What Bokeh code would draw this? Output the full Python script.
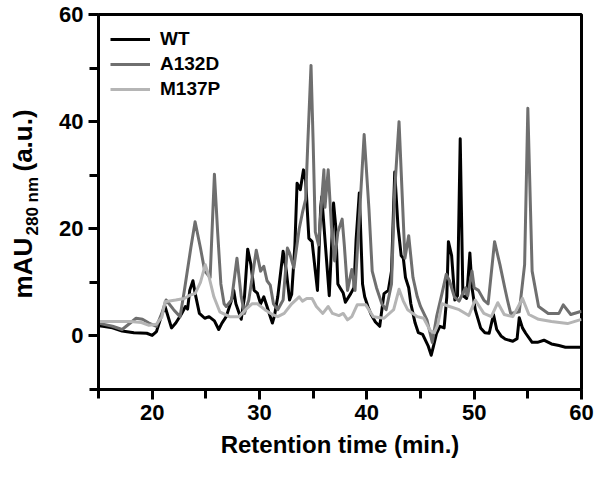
import math
from bokeh.plotting import figure
from bokeh.layouts import row
from bokeh.models import Range1d, FixedTicker, Legend, LegendItem
from bokeh.core.properties import value
from bokeh.embed import file_html
from bokeh.resources import INLINE

# ---------------- data ----------------
wt_time = [15.0, 15.4, 16.3, 17.2, 18.3, 19.5, 20.0, 20.4, 20.9, 21.2, 21.8, 22.2, 22.7,
           23.1, 23.3, 23.5, 23.8, 24.0, 24.4, 24.9, 25.3, 25.8, 26.2, 26.5, 26.9, 27.4,
           27.6, 27.8, 28.3, 28.6, 28.9, 29.2, 29.5, 29.8, 30.1, 30.4, 30.7, 31.0, 31.2,
           31.4, 31.7, 32.2, 32.5, 32.8, 33.0, 33.3, 33.5, 33.8, 34.1, 34.3, 34.6, 34.9,
           35.2, 35.4, 35.7, 35.8, 36.1, 36.5, 36.9, 37.1, 37.3, 37.5, 37.8, 38.0, 38.5,
           38.8, 39.0, 39.3, 39.6, 39.8, 40.1, 40.4, 40.8, 41.2, 41.6, 42.0, 42.3, 42.6,
           42.9, 43.2, 43.4, 43.6, 43.9, 44.1, 44.5, 44.8, 45.2, 45.7, 46.0, 46.2, 46.5,
           46.8, 47.2, 47.45, 47.6, 47.9, 48.2, 48.45, 48.7, 48.95, 49.1, 49.3, 49.6, 49.8,
           50.1, 50.6, 51.0, 51.4, 51.8, 52.1, 52.5, 52.9, 53.6, 54.0, 54.2, 54.5, 54.8,
           55.4, 55.9, 56.5, 57.2, 57.9, 58.5, 60.0]
wt_signal = [1.9, 1.8, 1.5, 0.9, 0.6, 0.5, 0.1, 0.8, 4.0, 5.5, 1.5, 2.4, 4.0,
             5.5, 5.0, 8.5, 10.3, 8.0, 4.2, 3.3, 3.6, 2.8, 1.2, 2.4, 3.6, 6.7,
             8.5, 6.0, 3.1, 7.3, 16.2, 13.3, 8.5, 8.0, 6.0, 7.3, 5.5, 3.6, 2.4,
             3.8, 7.3, 15.8, 12.1, 6.7, 7.8, 17.0, 28.5, 27.3, 31.0, 29.0, 18.2, 17.6,
             12.1, 8.5, 24.0, 26.0, 18.0, 7.5, 24.8, 20.5, 9.7, 9.0, 8.0, 6.3, 7.9,
             9.0, 18.0, 26.7, 9.7, 7.3, 5.5, 4.0, 2.6, 1.8, 7.9, 8.5, 12.1, 30.6,
             20.5, 15.0, 14.5, 10.9, 9.0, 6.0, 2.4, 0.6, 0.3, -1.8, -3.6, -2.0, 0.5,
             1.8, 1.5, 7.3, 17.6, 15.0, 6.7, 7.5, 36.8, 7.5, 7.3, 7.0, 15.5, 9.0,
             4.9, 1.5, 0.6, 0.5, 4.0, 1.2, 0.0, -0.6, -1.0, -0.5, 3.4, 1.5, 0.5,
             -1.2, -1.2, -0.8, -1.5, -1.8, -2.1, -2.1]

a132d_time = [15.0, 15.4, 16.3, 17.2, 17.7, 18.5, 19.1, 19.7, 20.4, 20.9, 21.3, 22.0, 22.6,
              23.0, 23.6, 24.0, 24.5, 24.9, 25.4, 25.8, 26.1, 26.4, 26.7, 26.9, 27.4, 27.9,
              28.3, 28.6, 29.0, 29.7, 30.1, 30.4, 30.7, 31.0, 31.3, 31.7, 32.2, 32.6, 32.8,
              33.2, 33.7, 34.0, 34.3, 34.5, 34.8, 35.0, 35.2, 35.5, 35.8, 36.0, 36.1, 36.4,
              36.7, 37.0, 37.3, 37.7, 37.9, 38.2, 38.6, 38.9, 39.4, 39.75, 40.2, 40.5, 40.9,
              41.4, 41.8, 42.3, 42.6, 43.0, 43.3, 43.55, 43.9, 44.3, 44.7, 45.0, 45.6, 46.1,
              46.5, 47.0, 47.4, 47.7, 48.15, 48.6, 49.2, 49.4, 49.8, 50.0, 50.4, 50.9, 51.3,
              51.9, 52.4, 52.85, 53.1, 53.4, 54.2, 54.7, 55.0, 55.4, 56.0, 56.9, 57.9, 58.3,
              59.0, 60.0]
a132d_signal = [2.4, 2.2, 1.8, 1.2, 2.0, 3.3, 3.1, 2.4, 1.8, 4.2, 6.7, 4.9, 3.6,
                8.5, 16.4, 21.3, 16.4, 12.1, 10.9, 30.2, 19.4, 9.7, 6.0, 5.5, 6.7, 14.5,
                7.3, 4.2, 6.7, 16.0, 12.1, 13.0, 10.3, 9.5, 6.0, 4.9, 6.7, 16.4, 15.5,
                12.7, 20.0, 23.0, 25.5, 36.0, 50.5, 36.0, 19.4, 17.0, 25.5, 31.0, 24.0, 31.0,
                20.5, 14.0, 19.4, 21.8, 17.0, 8.5, 12.4, 8.5, 25.5, 37.6, 23.6, 12.1, 9.0,
                6.0, 4.9, 9.7, 27.3, 40.0, 26.0, 14.5, 18.7, 10.9, 7.3, 5.5, 3.0, -1.2,
                3.6, 7.9, 11.5, 10.3, 7.3, 6.5, 9.0, 7.5, 12.1, 9.0, 8.5, 6.7, 6.0,
                17.6, 13.3, 9.0, 6.7, 4.2, 4.5, 13.3, 42.5, 12.1, 5.5, 4.2, 4.2, 5.8,
                4.0, 4.6]

m137p_time = [15.0, 16.0, 17.0, 18.0, 19.0, 19.7, 20.4, 20.9, 21.2, 22.2, 23.0, 23.5, 24.0,
              24.5, 24.95, 25.3, 25.75, 26.3, 27.2, 28.1, 28.7, 29.3, 29.8, 30.5, 31.2, 31.7,
              32.3, 33.0, 33.7, 34.0, 34.4, 34.9, 35.3, 35.9, 36.4, 36.8, 37.4, 37.8, 38.2,
              38.6, 39.1, 39.9, 40.6, 41.6, 42.5, 43.0, 43.4, 43.8, 44.7, 45.3, 45.9, 46.3,
              46.6, 47.0, 47.7, 48.6, 49.5, 50.1, 50.9, 51.6, 52.2, 52.8, 53.6, 54.5, 55.1,
              56.0, 57.2, 58.7, 60.0]
m137p_signal = [2.7, 2.7, 2.7, 2.7, 2.5, 2.0, 2.2, 3.5, 6.4, 6.7, 7.0, 7.6, 7.9,
                10.0, 13.3, 11.0, 7.3, 4.5, 3.6, 3.6, 4.9, 6.0, 6.0, 4.9, 4.0, 3.6,
                4.2, 6.0, 7.3, 6.5, 7.0, 7.0, 5.5, 4.2, 5.5, 4.2, 3.8, 4.2, 3.0,
                3.6, 5.8, 5.8, 3.6, 3.3, 4.9, 8.7, 6.5, 4.9, 3.6, 3.3, 1.0, 0.6,
                2.0, 6.0, 5.5, 4.9, 3.8, 6.7, 4.2, 3.6, 6.2, 4.0, 3.6, 7.0, 4.0,
                3.1, 2.7, 2.3, 3.1]

series_names = ["WT", "A132D", "M137P"]
series_colors = ["#000000", "#6f6f6f", "#b5b5b5"]

x_major = [20, 30, 40, 50, 60]
x_minor = [15, 25, 35, 45, 55]
y_major = [0, 20, 40, 60]
y_minor = [-10, 10, 30, 50]

y_title_parts = ["mAU", "280 nm", "(a.u.)"]

X0, X1, Y0, Y1 = 15, 60, -10, 60
FONT = "Liberation Sans"

# ---------------- layout sizes ----------------
TOTAL_W, H = 594, 468
LW = 54                       # narrow strip holding the y-axis title
W = TOTAL_W - LW
BL, BR, BT, BB = 98 - LW, 13, 14, 79

# ---------------- y-title strip ----------------
# its frame shares the main chart's top/bottom borders; y data = pixels from the top
t = figure(width=LW, height=H, output_backend="svg", toolbar_location=None,
           x_range=Range1d(0, LW), y_range=Range1d(H - BB, BT),
           x_axis_type=None, y_axis_type=None,
           min_border_left=0, min_border_right=0, min_border_top=BT, min_border_bottom=BB)
t.outline_line_color = None
t.xgrid.visible = False
t.ygrid.visible = False
t.background_fill_color = "white"
t.border_fill_color = "white"
# (x pixel of glyph centre line, y pixel of text start, font size)
title_pos = [(22, 298, "26px"), (32, 235, "17px"), (22, 171, "26px")]
for (cx, by, fs), txt in zip(title_pos, y_title_parts):
    t.text(x=[cx], y=[by], text=[txt], angle=math.pi / 2,
           text_font=value(FONT), text_font_style="bold", text_font_size=fs,
           text_align="left", text_baseline="middle", text_color="black")

# ---------------- main chart ----------------
p = figure(width=W, height=H, output_backend="svg", toolbar_location=None,
           x_range=Range1d(X0, X1), y_range=Range1d(Y0, Y1),
           min_border_left=BL, min_border_right=BR, min_border_top=BT, min_border_bottom=BB)
p.background_fill_color = "white"
p.border_fill_color = "white"
p.xgrid.visible = False
p.ygrid.visible = False
p.outline_line_color = "black"
p.outline_line_width = 3
p.outline_line_alpha = 1.0

p.xaxis.ticker = FixedTicker(ticks=x_major, minor_ticks=x_minor)
p.yaxis.ticker = FixedTicker(ticks=y_major, minor_ticks=y_minor)
for ax in (p.xaxis[0], p.yaxis[0]):
    ax.axis_line_width = 3
    ax.axis_line_color = "black"
    ax.major_tick_line_width = 3
    ax.minor_tick_line_width = 3
    ax.major_tick_line_color = "black"
    ax.minor_tick_line_color = "black"
    ax.major_tick_out = 10
    ax.major_tick_in = 0
    ax.minor_tick_out = 9
    ax.minor_tick_in = 0
    ax.major_label_text_font = FONT
    ax.major_label_text_font_style = "bold"
    ax.major_label_text_font_size = "22px"
    ax.major_label_text_color = "black"
    ax.major_label_standoff = 5

p.xaxis.axis_label = "Retention time (min.)"
p.xaxis.axis_label_text_font = FONT
p.xaxis.axis_label_text_font_style = "bold"
p.xaxis.axis_label_text_font_size = "24px"
p.xaxis.axis_label_text_color = "black"
p.xaxis.axis_label_standoff = 8

renderers = []
for tt, s, c in ((wt_time, wt_signal, series_colors[0]),
                 (a132d_time, a132d_signal, series_colors[1]),
                 (m137p_time, m137p_signal, series_colors[2])):
    renderers.append(p.line(tt, s, line_color=c, line_width=3, line_join="round"))

frame_h = H - BT - BB
leg_pad, leg_row, leg_sp = 4, 20, 3
leg_h = 2 * leg_pad + 3 * leg_row + 2 * leg_sp
legend = Legend(items=[LegendItem(label=n, renderers=[r]) for n, r in zip(series_names, renderers)],
                location=(8, frame_h - 16 - leg_h), margin=0, padding=leg_pad,
                glyph_width=40, glyph_height=leg_row, label_height=leg_row, spacing=leg_sp,
                label_standoff=10,
                label_text_font=FONT, label_text_font_style="bold",
                label_text_font_size="19px", label_text_color="black",
                background_fill_alpha=0, border_line_alpha=0)
p.add_layout(legend)

layout = row(t, p, spacing=0)
open("out.html", "w").write(file_html(layout, INLINE))
